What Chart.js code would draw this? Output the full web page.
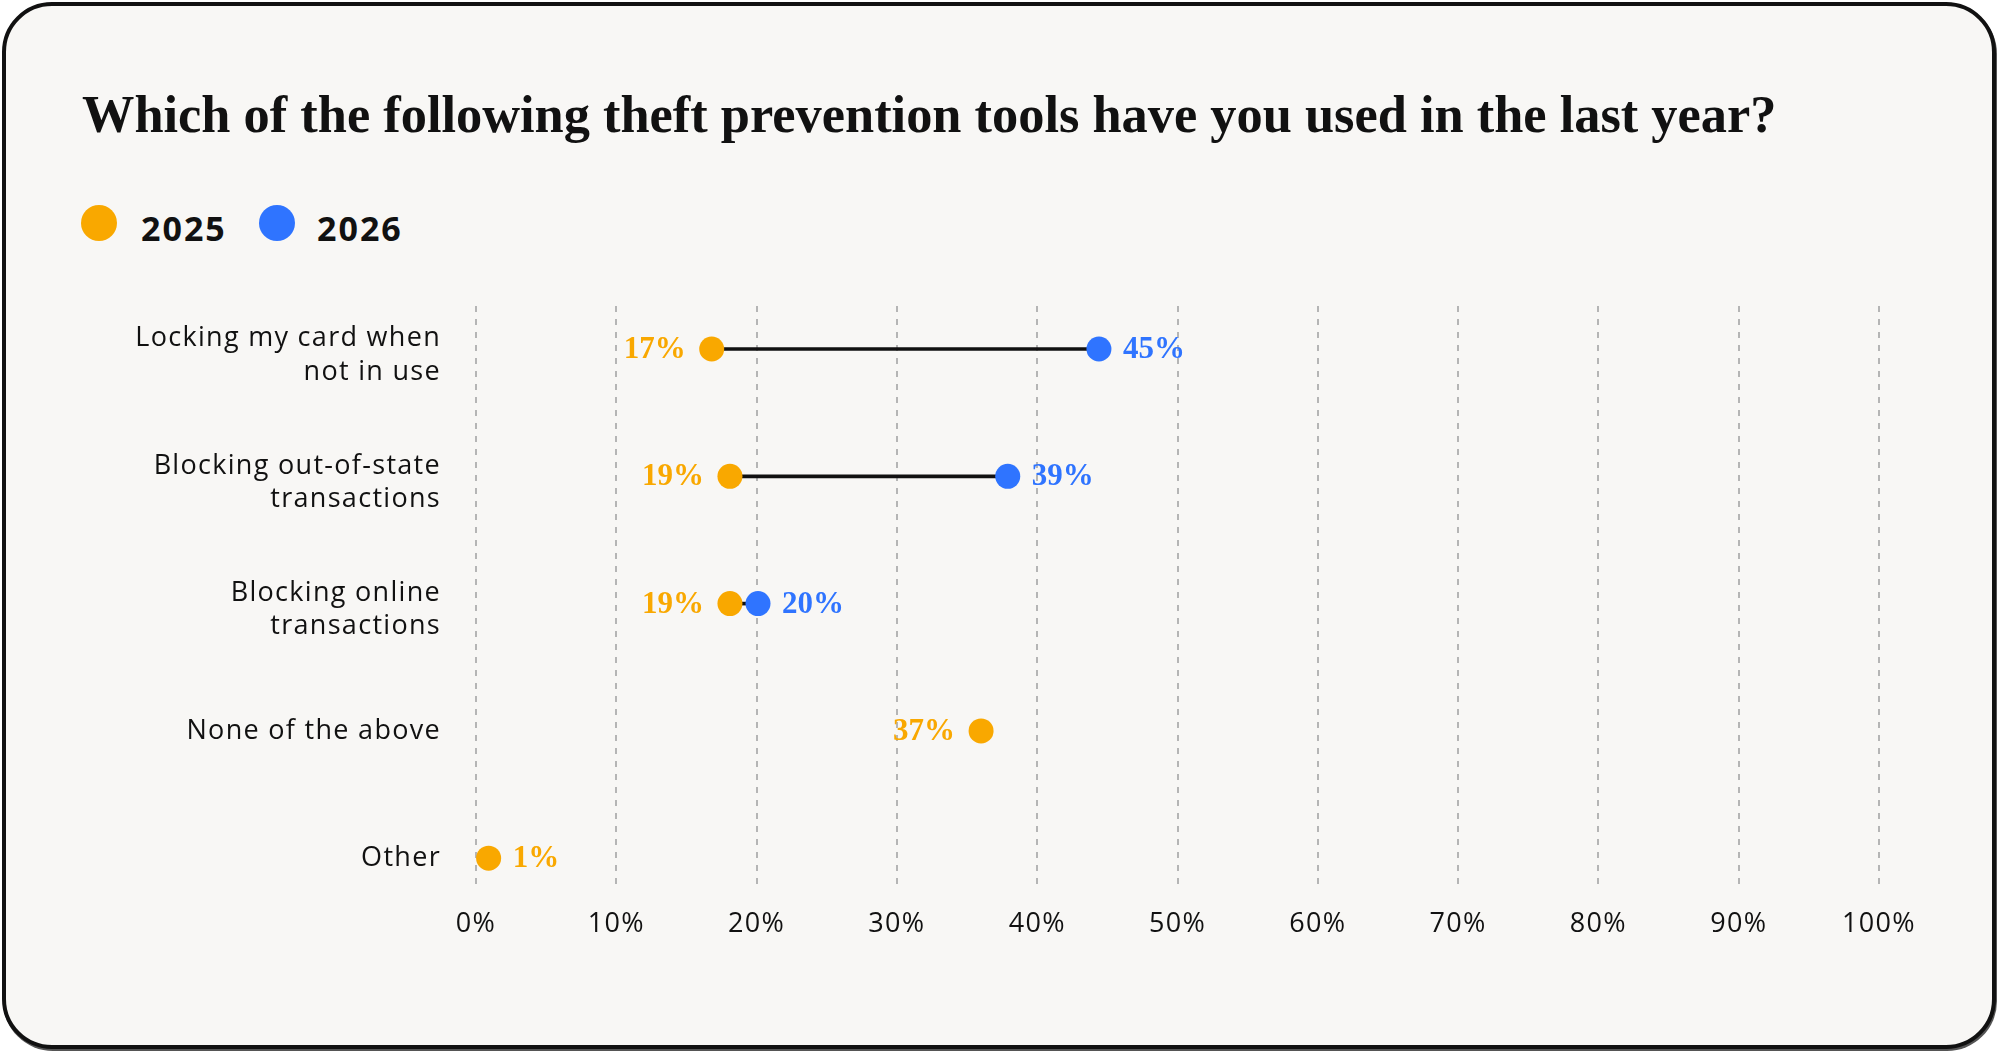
<!DOCTYPE html>
<html>
<head>
<meta charset="utf-8">
<script src="https://cdn.jsdelivr.net/npm/chart.js@4/dist/chart.umd.min.js"></script>
<style>
  html, body { margin: 0; padding: 0; background: #fff; }
  body { width: 2000px; height: 1053px; position: relative; overflow: hidden; }
  #card {
    position: absolute; left: 2px; top: 2px; width: 1994px; height: 1047px;
    box-sizing: border-box; border: 4px solid #111; border-radius: 50px;
    background: #f8f7f5; box-shadow: 1px 2px 0 #555;
  }
  #title {
    position: absolute; left: 82px; top: 88px; margin: 0;
    font: bold 52.4px "Liberation Serif", serif; line-height: 52px; color: #111;
    white-space: nowrap;
  }
  .dot { position: absolute; width: 36px; height: 36px; border-radius: 50%; top: 205px; }
  .key { position: absolute; top: 204px; font: bold 34px "Open Sans", sans-serif; line-height: 48px; color: #111; letter-spacing: 2px; }
  #wrap { position: absolute; left: 0; top: 0; width: 2000px; height: 1053px; }
</style>
</head>
<body>
<div id="card"></div>
<h1 id="title">Which of the following theft prevention tools have you used in the last year?</h1>
<span class="dot" style="left:81px;background:#f9a800"></span>
<span class="key" style="left:141px">2025</span>
<span class="dot" style="left:259px;background:#2f74ff"></span>
<span class="key" style="left:317px">2026</span>
<div id="wrap"><canvas id="chart"></canvas></div>

<script>
// theft prevention tools, share of respondents (%)
const categories = [
  ['Locking my card when', 'not in use'],
  ['Blocking out-of-state', 'transactions'],
  ['Blocking online', 'transactions'],
  'None of the above',
  'Other'
];
const values2025 = [16.8, 18.1, 18.1, 36.0, 0.9];
const values2026 = [44.4, 37.9, 20.1, null, null];
const labels2025 = ['17%', '19%', '19%', '37%', '1%'];
const labels2026 = ['45%', '39%', '20%', null, null];
const xTickLabels = ['0%', '10%', '20%', '30%', '40%', '50%', '60%', '70%', '80%', '90%', '100%'];

const orange = '#f9a800';
const blue = '#2f74ff';

function toPoints(vals) {
  return vals.map((v, i) => ({ x: v, y: i })).filter(p => p.x !== null);
}

const connectors = values2025
  .map((v, i) => ({ x: [v, values2026[i]], y: i }))
  .filter(p => p.x[1] !== null);

// axis text in the reference is tracked out a little
const spacing = {
  id: 'spacing',
  beforeDraw(chart) { chart.ctx.letterSpacing = '1.3px'; },
  afterDraw(chart) { chart.ctx.letterSpacing = '0px'; }
};

const valueLabels = {
  id: 'valueLabels',
  afterDatasetsDraw(chart) {
    const ctx = chart.ctx;
    ctx.save();
    ctx.letterSpacing = '0px';
    ctx.font = 'bold 31px "Liberation Serif", serif';
    ctx.textBaseline = 'middle';
    [[1, labels2025, orange], [2, labels2026, blue]].forEach(([idx, texts, color]) => {
      const ds = chart.data.datasets[idx];
      chart.getDatasetMeta(idx).data.forEach((pt, j) => {
        const row = ds.data[j].y;
        const text = texts[row];
        if (!text) return;
        ctx.fillStyle = color;
        // 2025 sits left of its dot unless it is hugging the axis
        if (idx === 1 && ds.data[j].x > 5) {
          ctx.textAlign = 'right';
          ctx.fillText(text, pt.x - 26, pt.y + 1);
        } else {
          ctx.textAlign = 'left';
          ctx.fillText(text, pt.x + 24, pt.y + 1);
        }
      });
    });
    ctx.restore();
  }
};

const ctx = document.getElementById('chart').getContext('2d');
new Chart(ctx, {
  type: 'bar',
  data: {
    datasets: [
      {
        type: 'bar',
        label: 'change',
        data: connectors,
        backgroundColor: '#111',
        barThickness: 3,
        order: 3
      },
      {
        type: 'line',
        label: '2025',
        data: toPoints(values2025),
        showLine: false,
        pointRadius: 12.5,
        pointHoverRadius: 12.5,
        pointBorderWidth: 0,
        pointBackgroundColor: orange,
        order: 2
      },
      {
        type: 'line',
        label: '2026',
        data: toPoints(values2026),
        showLine: false,
        pointRadius: 12.5,
        pointHoverRadius: 12.5,
        pointBorderWidth: 0,
        pointBackgroundColor: blue,
        order: 1
      }
    ]
  },
  options: {
    indexAxis: 'y',
    responsive: true,
    maintainAspectRatio: false,
    animation: false,
    events: [],
    layout: { padding: { top: 306, right: 121, bottom: 103, left: 0 } },
    plugins: {
      legend: { display: false },
      tooltip: { enabled: false }
    },
    scales: {
      x: {
        type: 'linear',
        min: 0,
        max: 100,
        ticks: {
          stepSize: 10,
          padding: 18,
          color: '#111',
          font: { family: 'Open Sans', size: 27 },
          callback: (v, i) => xTickLabels[i]
        },
        grid: { color: '#b5b5b5', lineWidth: 2, drawTicks: false },
        border: { display: false, dash: [6, 7] },
        afterFit: scale => { scale.height = 60; }
      },
      y: {
        type: 'linear',
        reverse: true,
        offset: false,
        min: -0.338,
        max: 4.25,
        // two-line labels sit a touch below their row in the reference
        afterBuildTicks: scale => {
          scale.ticks = categories.map((c, i) => ({ value: Array.isArray(c) ? i + 0.05 : i }));
        },
        ticks: {
          padding: 35,
          color: '#111',
          font: { family: 'Open Sans', size: 27, lineHeight: 1.24 },
          callback: v => categories[Math.round(v)]
        },
        grid: { display: false, drawTicks: false },
        border: { display: false },
        afterFit: scale => { scale.width = 476; }
      }
    }
  },
  plugins: [spacing, valueLabels]
});
</script>
</body>
</html>
